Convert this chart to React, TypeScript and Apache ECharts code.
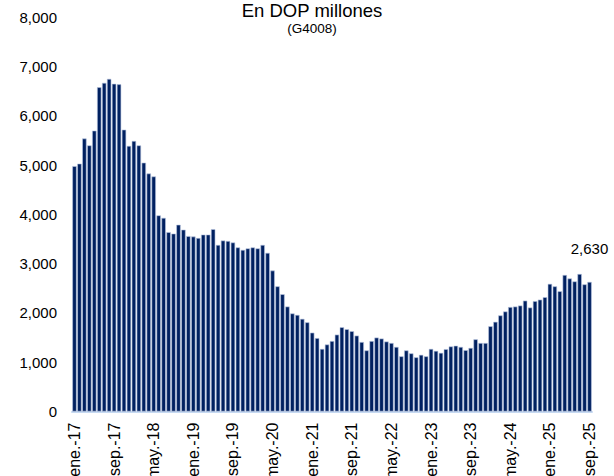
import React, { useEffect, useRef } from "react";
import * as echarts from "echarts";

const months = ["ene.", "feb.", "mar.", "abr.", "may.", "jun.", "jul.", "ago.", "sep.", "oct.", "nov.", "dic."];
const years = ["17", "18", "19", "20", "21", "22", "23", "24", "25"];

const v2017 = [4980, 5030, 5540, 5400, 5700, 6580, 6670, 6750, 6650, 6640, 5720, 5390];
const v2018 = [5490, 5400, 5050, 4830, 4770, 3980, 3930, 3640, 3610, 3790, 3690, 3560];
const v2019 = [3550, 3520, 3590, 3590, 3700, 3380, 3470, 3460, 3430, 3330, 3280, 3310];
const v2020 = [3330, 3310, 3380, 3220, 2860, 2540, 2380, 2130, 1990, 1960, 1880, 1810];
const v2021 = [1600, 1490, 1270, 1360, 1430, 1560, 1710, 1670, 1630, 1540, 1410, 1240];
const v2022 = [1430, 1500, 1480, 1420, 1390, 1310, 1120, 1240, 1180, 1100, 1150, 1120];
const v2023 = [1270, 1230, 1190, 1265, 1320, 1335, 1310, 1245, 1290, 1465, 1390, 1390];
const v2024 = [1730, 1820, 1950, 2030, 2120, 2130, 2150, 2250, 2110, 2240, 2270, 2320];
const v2025 = [2590, 2540, 2440, 2770, 2700, 2640, 2790, 2580, 2630];

const values = [...v2017, ...v2018, ...v2019, ...v2020, ...v2021, ...v2022, ...v2023, ...v2024, ...v2025];
const categories: string[] = [];
years.forEach((y) => months.forEach((m) => categories.push(`${m}-${y}`)));
categories.length = values.length;

const title = "En DOP millones";
const subtitle = "(G4008)";

export default function App() {
  const ref = useRef<HTMLDivElement>(null);
  useEffect(() => {
    if (!ref.current) return;
    const chart = echarts.init(ref.current, null, { renderer: "svg" });
    const font = "Liberation Sans, Arial, sans-serif";
    const data = values.map((v, i) =>
      i === values.length - 1
        ? {
            value: v,
            label: {
              show: true,
              position: "top",
              distance: 26,
              fontSize: 15,
              color: "#000",
              fontFamily: font,
              formatter: (p: any) => Number(p.value).toLocaleString("en-US"),
            },
          }
        : v
    );
    chart.setOption({
      animation: false,
      title: {
        text: title,
        subtext: subtitle,
        left: 312,
        textAlign: "center",
        top: 0,
        padding: 0,
        itemGap: 0,
        textStyle: { fontSize: 18.5, fontWeight: "normal", color: "#000", fontFamily: font, lineHeight: 21 },
        subtextStyle: { fontSize: 13.5, color: "#000", fontFamily: font, lineHeight: 15 },
      },
      grid: {
        left: 72,
        right: 22,
        top: 17.3,
        bottom: 64.5,
        containLabel: false,
        outerBoundsMode: "none",
      },
      xAxis: {
        type: "category",
        data: categories,
        axisLine: { show: true, lineStyle: { color: "#c6d9f1", width: 2 } },
        axisTick: { show: false },
        axisLabel: {
          interval: 7,
          rotate: 90,
          fontSize: 16,
          color: "#000",
          fontFamily: font,
          margin: 11,
        },
      },
      yAxis: {
        type: "value",
        min: 0,
        max: 8000,
        interval: 1000,
        axisLine: { show: false },
        axisTick: { show: false },
        splitLine: { show: false },
        axisLabel: {
          fontSize: 15,
          color: "#000",
          fontFamily: font,
          margin: 15,
          formatter: (v: number) => v.toLocaleString("en-US"),
        },
      },
      series: [
        {
          type: "bar",
          data,
          barCategoryGap: "12%",
          itemStyle: { color: "#002060", borderColor: "#b8c6e0", borderWidth: 0.6 },
        },
      ],
    });
    return () => chart.dispose();
  }, []);
  return (
    <div
      ref={ref}
      style={{ position: "absolute", left: 0, top: 0, width: 614, height: 476, overflow: "hidden" }}
    />
  );
}
